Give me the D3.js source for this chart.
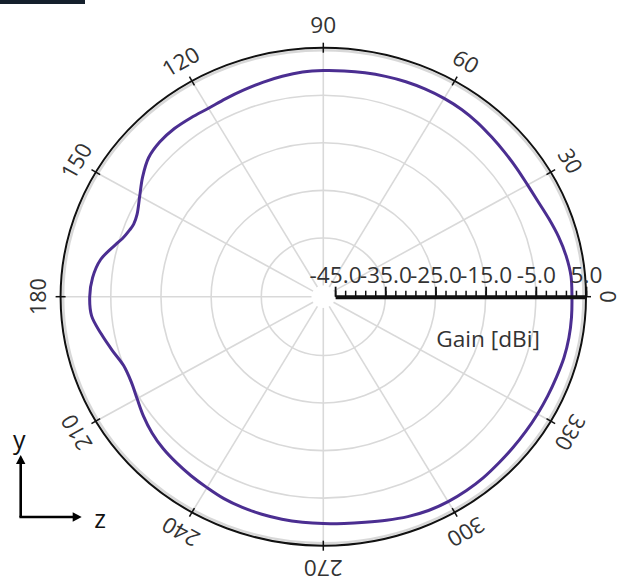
<!DOCTYPE html>
<html><head><meta charset="utf-8">
<script src="https://cdn.jsdelivr.net/npm/d3@7"></script>
<style>
body{margin:0;background:#fff}
svg{display:block}
text{font-family:"Open Sans",sans-serif}
</style>
</head><body>
<svg id="c" width="633" height="577"></svg>
<script>
// ---- data ----
const angles = [0,5,10,15,20,25,30,35,40,45,50,55,60,65,70,75,80,85,90,95,100,105,110,115,120,125,130,135,140,145,150,155,158,160,163,165,170,175,180,185,190,195,200,205,210,215,220,225,230,235,240,245,250,255,260,265,270,275,280,285,290,295,300,305,310,315,320,325,330,335,340,345,350,355];
const gains  = [2.2,2.2,1.8,1.2,0.5,-0.1,-0.35,-0.3,-0.15,0.1,0.45,0.7,0.8,0.8,0.75,0.6,0.45,0.3,0.2,0.05,-0.3,-0.7,-1.1,-1.4,-1.6,-1.4,-1.2,-1.3,-1.9,-3.4,-5.1,-6.4,-6.6,-6.3,-5.5,-4.6,-2.3,-1.2,-0.8,-1.0,-2.4,-3.8,-5.0,-5.1,-4.5,-3.6,-2.8,-2.2,-1.8,-1.4,-1.0,-0.5,-0.2,0.0,0.15,0.25,0.35,0.5,0.8,1.3,1.85,2.25,2.4,2.4,2.3,2.1,2.0,1.95,1.95,2.0,2.1,2.3,2.35,2.3];
const angleTicks = [0,30,60,90,120,150,180,210,240,270,300,330];
const gridGains  = [-35,-25,-15,-5];
const gainTicks  = [-45,-35,-25,-15,-5,5];
const minorTicks = [-45,-43,-41,-39,-37,-35,-33,-31,-29,-27,-25,-23,-21,-19,-17,-15,-13,-11,-9,-7,-5,-3,-1,1,3,5];
const axisTitle = "Gain [dBi]";

// ---- layout ----
const cx = 323.3, cy = 296.7, R = 249, kx = 1.055;
const r = d3.scaleLinear().domain([-45, 5]).range([11.2, R]);
const rad = d => d * Math.PI / 180;
const X = (deg, v) => cx + r(v) * kx * Math.cos(rad(deg));
const Y = (deg, v) => cy - r(v) * Math.sin(rad(deg));
const FS = 21.5;

const svg = d3.select('#c');

// top-left dark bar
svg.append('rect').attr('x',0).attr('y',0).attr('width',85).attr('height',4).attr('fill','#15202c');

// grid ellipses
svg.append('g').selectAll('ellipse').data(gridGains).join('ellipse')
  .attr('cx',cx).attr('cy',cy)
  .attr('rx',d=>r(d)*kx).attr('ry',d=>r(d))
  .attr('fill','none').attr('stroke','#d9d9d9').attr('stroke-width',1.6);

// spokes
svg.append('g').selectAll('line').data(angleTicks).join('line')
  .attr('x1',d=>X(d,-45)).attr('y1',d=>Y(d,-45))
  .attr('x2',d=>X(d,5)).attr('y2',d=>Y(d,5))
  .attr('stroke','#d9d9d9').attr('stroke-width',1.6);

// outer ring halo + ring
svg.append('ellipse').attr('cx',cx).attr('cy',cy).attr('rx',R*kx-2.5).attr('ry',R-2.5)
  .attr('fill','none').attr('stroke','#c8c8c8').attr('stroke-width',2.5).attr('opacity',0.7);
svg.append('ellipse').attr('cx',cx).attr('cy',cy).attr('rx',R*kx).attr('ry',R)
  .attr('fill','none').attr('stroke','#111').attr('stroke-width',2);

// ring ticks
svg.append('g').selectAll('line').data(angleTicks).join('line')
  .attr('x1',d=>cx+(R*kx-5)*Math.cos(rad(d))).attr('y1',d=>cy-(R-5)*Math.sin(rad(d)))
  .attr('x2',d=>cx+(R*kx+5)*Math.cos(rad(d))).attr('y2',d=>cy-(R+5)*Math.sin(rad(d)))
  .attr('stroke','#111').attr('stroke-width',1.5);

// angle labels
const LO = 23.5;
svg.append('g').selectAll('text').data(angleTicks).join('text')
  .attr('transform',d=>{
    const x = cx+(R*kx+LO)*Math.cos(rad(d)), y = cy-(R+LO)*Math.sin(rad(d));
    return `translate(${x},${y}) scale(${kx},1) rotate(${90-d})`;
  })
  .attr('text-anchor','middle').attr('dominant-baseline','central')
  .attr('font-size',FS).attr('fill','#333').text(d=>d);

// pattern curve
const pts = angles.map((a,i)=>[a,gains[i]]);
const line = d3.line().x(d=>X(d[0],d[1])).y(d=>Y(d[0],d[1])).curve(d3.curveCatmullRomClosed.alpha(0.5));
svg.append('path').attr('d',line(pts)).attr('fill','none')
  .attr('stroke','#4b2e91').attr('stroke-width',3);

// radial axis
const xr = d3.scaleLinear().domain([-45,5]).range([r(-45)*kx, r(5)*kx]);
const gMinor = svg.append('g').attr('transform',`translate(${cx},${cy})`)
  .call(d3.axisTop(xr).tickValues(minorTicks).tickSize(6).tickSizeOuter(0).tickFormat(''));
gMinor.select('.domain').remove();
gMinor.selectAll('line').attr('stroke','#111').attr('stroke-width',1.5);
const gMajor = svg.append('g').attr('transform',`translate(${cx},${cy})`)
  .call(d3.axisTop(xr).tickValues(gainTicks).tickSize(10).tickSizeOuter(0).tickPadding(3.5)
        .tickFormat(d=>d.toFixed(1)));
gMajor.select('.domain').attr('stroke','#111').attr('stroke-width',4);
gMajor.selectAll('.tick line').attr('stroke','#111').attr('stroke-width',1.8);
gMajor.selectAll('.tick text')
  .attr('transform',`scale(${kx},1)`)
  .attr('x',function(){ return 0; })
  .attr('font-size',FS).attr('fill','#333').attr('font-family','"Open Sans",sans-serif');
// place tick groups so scaled text stays centred on ticks
gMajor.selectAll('.tick').each(function(d){
  d3.select(this).select('text').attr('transform',`scale(${kx},1)`);
});

svg.append('text').attr('transform',`translate(488,338) scale(${kx},1)`).attr('text-anchor','middle')
  .attr('dominant-baseline','central').attr('font-size',FS).attr('fill','#333').text(axisTitle);

// axis indicator
const ind = svg.append('g');
ind.append('line').attr('x1',20.7).attr('y1',517).attr('x2',20.7).attr('y2',462).attr('stroke','#000').attr('stroke-width',2.6);
ind.append('line').attr('x1',19.4).attr('y1',517).attr('x2',74).attr('y2',517).attr('stroke','#000').attr('stroke-width',2.6);
ind.append('path').attr('d','M20.7,455 L16,464 L25.4,464 Z').attr('fill','#000');
ind.append('path').attr('d','M81.7,517 L72.7,512.3 L72.7,521.7 Z').attr('fill','#000');
ind.append('text').attr('x',19.3).attr('y',439).attr('text-anchor','middle').attr('dominant-baseline','central')
  .attr('font-size',25).attr('fill','#111').text('y');
ind.append('text').attr('x',100).attr('y',518).attr('text-anchor','middle').attr('dominant-baseline','central')
  .attr('font-size',25).attr('fill','#111').text('z');
</script>
</body></html>
